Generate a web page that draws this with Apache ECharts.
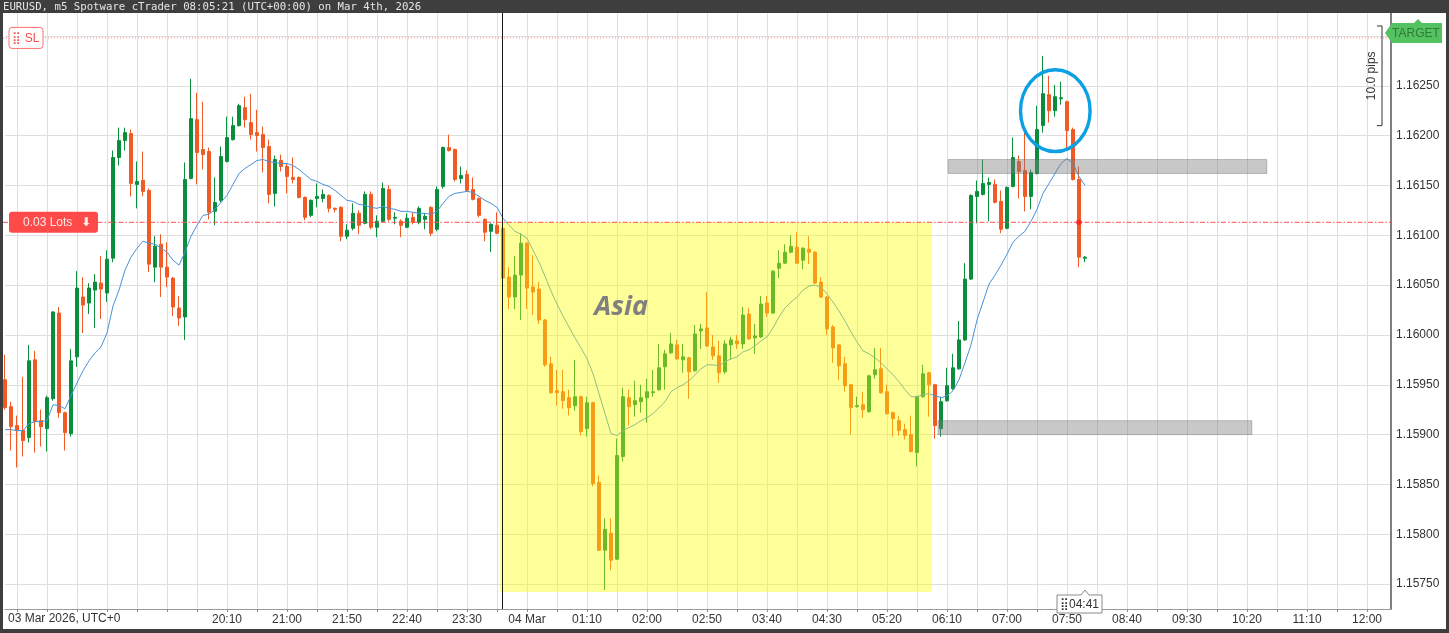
<!DOCTYPE html>
<html><head><meta charset="utf-8">
<script src="https://cdn.jsdelivr.net/npm/echarts@6/dist/echarts.min.js"></script>
<style>html,body{margin:0;padding:0;background:#fff}#c{width:1449px;height:633px}</style>
</head><body><div id="c"></div>
<script>
// ---- data (EURUSD m5, first candle 17:05 on 03 Mar 2026) ----
const firstTime = '17:05';
const slotCount = 232;
const opens = [1.15955,1.15928,1.15909,1.15904,1.15897,1.15975,1.15914,1.15906,1.15936,1.16022,
1.15922,1.15901,1.15978,1.16038,1.16032,1.16045,1.16052,1.16042,1.16077,1.16178,
1.16195,1.16202,1.16151,1.16155,1.16145,1.16068,1.16091,1.16068,1.16057,1.16027,
1.16018,1.16157,1.16216,1.16186,1.16184,1.16124,1.16135,1.16174,1.16196,1.16210,
1.16228,1.16213,1.16203,1.16201,1.16189,1.16142,1.16175,1.16169,1.16158,1.16158,
1.16138,1.16120,1.16137,1.16137,1.16140,1.16127,1.16128,1.16099,1.16107,1.16122,
1.16112,1.16141,1.16108,1.16114,1.16146,1.16117,1.16114,1.16108,1.16118,1.16113,
1.16116,1.16128,1.16106,1.16149,1.16188,1.16186,1.16157,1.16161,1.16146,1.16137,
1.16116,1.16104,1.16110,1.16107,1.16058,1.16038,1.16060,1.16092,1.16048,1.16046,
1.16015,1.15971,1.15944,1.15943,1.15937,1.15929,1.15938,1.15906,1.15932,1.15852,
1.15784,1.15801,1.15775,1.15878,1.15937,1.15930,1.15933,1.15937,1.15942,1.15945,
1.15968,1.15982,1.15990,1.15975,1.15977,1.15964,1.16004,1.16007,1.15988,1.15979,
1.15963,1.15990,1.15994,1.15991,1.16021,1.15997,1.15998,1.16032,1.16022,1.16067,
1.16072,1.16083,1.16088,1.16075,1.16086,1.16083,1.16053,1.16038,1.16008,1.15990,
1.15971,1.15950,1.15928,1.15930,1.15923,1.15960,1.15966,1.15943,1.15922,1.15914,
1.15905,1.15900,1.15882,1.15938,1.15962,1.15950,1.15906,1.15934,1.15946,1.15966,
1.15995,1.16056,1.16139,1.16141,1.16151,1.16151,1.16134,1.16107,1.16149,1.16174,
1.16165,1.16139,1.16162,1.16210,1.16241,1.16225,1.16237,1.16234,1.16206,1.16156,
1.16077];
const highs = [1.15980,1.15933,1.15919,1.15958,1.15990,1.15984,1.15925,1.15939,1.16024,1.16028,
1.15923,1.15986,1.16064,1.16058,1.16052,1.16061,1.16079,1.16085,1.16185,1.16208,
1.16208,1.16206,1.16174,1.16184,1.16147,1.16099,1.16101,1.16093,1.16058,1.16039,
1.16173,1.16257,1.16243,1.16234,1.16188,1.16158,1.16189,1.16219,1.16219,1.16232,
1.16239,1.16242,1.16226,1.16209,1.16196,1.16180,1.16181,1.16172,1.16178,1.16159,
1.16139,1.16136,1.16152,1.16146,1.16141,1.16128,1.16129,1.16111,1.16132,1.16125,
1.16144,1.16144,1.16120,1.16153,1.16150,1.16123,1.16116,1.16122,1.16123,1.16129,
1.16122,1.16129,1.16149,1.16189,1.16201,1.16187,1.16169,1.16165,1.16158,1.16138,
1.16117,1.16112,1.16123,1.16108,1.16068,1.16079,1.16102,1.16093,1.16080,1.16053,
1.16016,1.15978,1.15965,1.15965,1.15945,1.15975,1.15939,1.15938,1.15933,1.15859,
1.15816,1.15816,1.15896,1.15947,1.15945,1.15954,1.15950,1.15956,1.15965,1.15991,
1.15985,1.16002,1.15995,1.15991,1.15978,1.16010,1.16011,1.16043,1.16000,1.15994,
1.15995,1.15998,1.16000,1.16028,1.16027,1.16011,1.16039,1.16039,1.16065,1.16085,
1.16091,1.16100,1.16103,1.16088,1.16099,1.16084,1.16058,1.16039,1.16010,1.15991,
1.15978,1.15951,1.15938,1.15943,1.15960,1.15987,1.15987,1.15950,1.15923,1.15919,
1.15911,1.15919,1.15939,1.15970,1.15963,1.15951,1.15938,1.15967,1.15981,1.16014,
1.16072,1.16141,1.16155,1.16176,1.16158,1.16156,1.16145,1.16149,1.16198,1.16180,
1.16204,1.16166,1.16230,1.16280,1.16260,1.16251,1.16254,1.16235,1.16208,1.16169,
1.16079];
const lows = [1.15925,1.15884,1.15867,1.15878,1.15892,1.15882,1.15888,1.15883,1.15934,1.15917,
1.15884,1.15898,1.15968,1.16002,1.16021,1.16007,1.16016,1.16033,1.16073,1.16170,
1.16185,1.16139,1.16127,1.16139,1.16063,1.16053,1.16038,1.16048,1.16019,1.16009,
1.15995,1.16156,1.16151,1.16166,1.16116,1.16110,1.16133,1.16173,1.16195,1.16209,
1.16208,1.16196,1.16184,1.16163,1.16132,1.16129,1.16164,1.16142,1.16152,1.16137,
1.16115,1.16118,1.16128,1.16133,1.16123,1.16123,1.16094,1.16096,1.16105,1.16101,
1.16111,1.16106,1.16098,1.16113,1.16114,1.16111,1.16098,1.16107,1.16111,1.16111,
1.16106,1.16099,1.16104,1.16147,1.16184,1.16154,1.16152,1.16144,1.16135,1.16118,
1.16094,1.16083,1.16101,1.16035,1.16026,1.16026,1.16015,1.16026,1.16020,1.16011,
1.15968,1.15941,1.15929,1.15926,1.15919,1.15924,1.15899,1.15898,1.15848,1.15783,
1.15744,1.15764,1.15774,1.15873,1.15909,1.15918,1.15922,1.15912,1.15938,1.15944,
1.15945,1.15981,1.15975,1.15962,1.15936,1.15963,1.15986,1.15988,1.15975,1.15952,
1.15961,1.15975,1.15986,1.15986,1.15995,1.15981,1.15997,1.16018,1.16021,1.16057,
1.16071,1.16082,1.16071,1.16066,1.16071,1.16051,1.16037,1.16000,1.15972,1.15955,
1.15943,1.15900,1.15927,1.15917,1.15922,1.15956,1.15941,1.15920,1.15898,1.15899,
1.15895,1.15882,1.15868,1.15937,1.15918,1.15896,1.15898,1.15933,1.15945,1.15965,
1.15994,1.16055,1.16112,1.16140,1.16114,1.16132,1.16102,1.16106,1.16148,1.16137,
1.16124,1.16126,1.16161,1.16203,1.16213,1.16219,1.16231,1.16187,1.16155,1.16068,
1.16073];
const closes = [1.15927,1.15908,1.15904,1.15894,1.15974,1.15913,1.15908,1.15937,1.16023,1.15922,
1.15902,1.15974,1.16047,1.16030,1.16047,1.16053,1.16046,1.16076,1.16178,1.16195,
1.16203,1.16152,1.16154,1.16144,1.16071,1.16089,1.16068,1.16058,1.16028,1.16017,
1.16156,1.16217,1.16183,1.16181,1.16123,1.16133,1.16179,1.16198,1.16210,1.16230,
1.16216,1.16201,1.16200,1.16188,1.16141,1.16176,1.16169,1.16159,1.16156,1.16138,
1.16118,1.16135,1.16139,1.16141,1.16127,1.16126,1.16099,1.16105,1.16122,1.16110,
1.16141,1.16108,1.16114,1.16147,1.16116,1.16118,1.16110,1.16117,1.16113,1.16127,
1.16119,1.16102,1.16146,1.16188,1.16185,1.16156,1.16160,1.16145,1.16136,1.16120,
1.16103,1.16111,1.16102,1.16057,1.16038,1.16060,1.16092,1.16047,1.16043,1.16015,
1.15970,1.15942,1.15942,1.15934,1.15927,1.15938,1.15903,1.15932,1.15851,1.15784,
1.15805,1.15774,1.15879,1.15938,1.15928,1.15934,1.15937,1.15943,1.15943,1.15967,
1.15981,1.15991,1.15976,1.15978,1.15963,1.16001,1.16006,1.15989,1.15979,1.15962,
1.15991,1.15995,1.15991,1.16020,1.15996,1.15999,1.16031,1.16022,1.16064,1.16072,
1.16083,1.16089,1.16072,1.16087,1.16083,1.16052,1.16038,1.16006,1.15987,1.15969,
1.15949,1.15927,1.15929,1.15925,1.15959,1.15965,1.15942,1.15921,1.15916,1.15904,
1.15899,1.15883,1.15938,1.15961,1.15950,1.15909,1.15933,1.15949,1.15967,1.15995,
1.16056,1.16140,1.16144,1.16152,1.16153,1.16133,1.16106,1.16148,1.16178,1.16164,
1.16139,1.16163,1.16206,1.16242,1.16225,1.16239,1.16238,1.16205,1.16156,1.16078,
1.16078];
const maValues = [1.15905,1.15905,1.15904,1.15904,1.15911,1.15913,1.15913,1.15914,1.15930,1.15929,
1.15926,1.15939,1.15952,1.15964,1.15974,1.15982,1.15988,1.16002,1.16029,1.16045,
1.16065,1.16078,1.16087,1.16094,1.16092,1.16091,1.16087,1.16083,1.16075,1.16070,
1.16083,1.16099,1.16110,1.16120,1.16121,1.16126,1.16133,1.16140,1.16151,1.16162,
1.16167,1.16171,1.16175,1.16176,1.16174,1.16173,1.16172,1.16172,1.16170,1.16166,
1.16161,1.16156,1.16154,1.16151,1.16149,1.16145,1.16140,1.16135,1.16134,1.16131,
1.16130,1.16128,1.16127,1.16129,1.16127,1.16126,1.16124,1.16124,1.16123,1.16122,
1.16122,1.16121,1.16124,1.16132,1.16139,1.16142,1.16143,1.16144,1.16143,1.16139,
1.16135,1.16132,1.16128,1.16117,1.16110,1.16104,1.16101,1.16097,1.16085,1.16073,
1.16059,1.16044,1.16031,1.16019,1.16008,1.15997,1.15987,1.15976,1.15961,1.15941,
1.15921,1.15901,1.15899,1.15904,1.15907,1.15910,1.15914,1.15917,1.15921,1.15927,
1.15933,1.15943,1.15947,1.15950,1.15954,1.15960,1.15966,1.15970,1.15970,1.15969,
1.15973,1.15976,1.15978,1.15983,1.15985,1.15989,1.15994,1.15998,1.16007,1.16018,
1.16027,1.16033,1.16038,1.16045,1.16049,1.16050,1.16048,1.16041,1.16033,1.16024,
1.16014,1.16003,1.15993,1.15984,1.15981,1.15977,1.15972,1.15966,1.15960,1.15953,
1.15945,1.15938,1.15938,1.15940,1.15941,1.15939,1.15937,1.15939,1.15944,1.15955,
1.15972,1.15990,1.16015,1.16033,1.16051,1.16060,1.16070,1.16081,1.16093,1.16099,
1.16104,1.16114,1.16126,1.16142,1.16152,1.16162,1.16172,1.16177,1.16172,1.16159,
1.16150];
const xTickTimes  = ['20:10','21:00','21:50','22:40','23:30','00:20','01:10','02:00','02:50','03:40','04:30','05:20','06:10','07:00','07:50','08:40','09:30','10:20','11:10','12:00'];
const xTickLabels = ['20:10','21:00','21:50','22:40','23:30','04 Mar','01:10','02:00','02:50','03:40','04:30','05:20','06:10','07:00','07:50','08:40','09:30','10:20','11:10','12:00'];
const yRange = [1.15725, 1.16323];
const yLabelStep = 0.0005;

// annotations (index / price values)
const asiaBox = [82.5, 154.5, 1.16113, 1.15742];
const upperZone = [157.2, 210.3, 1.16176, 1.16162];
const lowerZone = [155.5, 207.8, 1.15914, 1.15900];
const lotsLevel = [1.16113];
const slLevel = [1.16298];
const targetLevel = [1.16303];
const pipsBracket = [1.16310, 1.16210];
const circleMark = [175.05, 1.16225, 5.8, 0.00041];
const asiaLabelAt = [102.7, 1.16028];
const daySeparator = [83];
const currentCandle = [180];
const lotsDot = [179, 1.16113];

// ---- build ----
const categories = [];
(function(){ let [h,m] = firstTime.split(':').map(Number); let t = h*60+m;
  for (let k=0;k<slotCount;k++){ const mm=((t+5*k)%1440); categories.push(String(Math.floor(mm/60)).padStart(2,'0')+':'+String(mm%60).padStart(2,'0')); } })();
const labelMap = {}; xTickTimes.forEach((t,i)=>labelMap[t]=xTickLabels[i]);
const firstLabelIdx = categories.indexOf(xTickTimes[0]);
const candleData = opens.map((o,i)=>[o, closes[i], lows[i], highs[i]]);

const bull = '#0b8d3e', bear = '#f15a24';
const FONT = '"Liberation Sans", Arial, sans-serif';
const chart = echarts.init(document.getElementById('c'), null, {renderer:'canvas', width:1449, height:633});
const option = {
  animation:false,
  backgroundColor:'#ffffff',
  grid:{left:5, right:58, top:13, bottom:24},
  xAxis:{
    type:'category', data:categories, boundaryGap:false,
    axisLine:{show:true, lineStyle:{color:'#9a9a9a'}},
    axisTick:{show:true, length:3, interval:(i)=>((i-firstLabelIdx)%5===0), lineStyle:{color:'#8a8a8a'}},
    axisLabel:{interval:(i,v)=>labelMap[v]!==undefined, formatter:(v)=>labelMap[v]||'', color:'#333', fontSize:12, fontFamily:FONT, margin:5},
    splitLine:{show:true, interval:(i)=>((i-firstLabelIdx)%5===0), lineStyle:{color:'#dedede', width:1}}
  },
  yAxis:{
    type:'value', position:'right', scale:true, min:yRange[0], max:yRange[1], interval:yLabelStep/2,
    axisLine:{show:true, lineStyle:{color:'#555', width:1.5}},
    axisTick:{show:false},
    axisLabel:{color:'#333', fontSize:12, fontFamily:FONT, margin:5,
      formatter:(v)=>{ const q=v/yLabelStep; return Math.abs(q-Math.round(q))<1e-6 ? v.toFixed(5) : ''; }},
    splitLine:{show:true, lineStyle:{color:['rgba(0,0,0,0)','#dedede'], width:1}}
  },
  series:[
    {type:'candlestick', data:candleData, barWidth:3.6, clip:false, silent:true, z:2,
     itemStyle:{color:bull, color0:bear, borderColor:bull, borderColor0:bear, borderWidth:1}},
    {type:'line', data:maValues, showSymbol:false, symbol:'none', silent:true, z:3,
     lineStyle:{color:'#4a92d8', width:1}}
  ]
};
chart.setOption(option);

const xa = chart.convertToPixel({xAxisIndex:0}, 0);
const xb = chart.convertToPixel({xAxisIndex:0}, 1);
const X = (i)=> xa + (xb-xa)*i;
const Y = (p)=> chart.convertToPixel({yAxisIndex:0}, p);
const gTop = Y(yRange[1]), gBot = Y(yRange[0]);
const gLeft = 3, gRight = X(slotCount-1);

const g = [];
// Asia overlay
g.push({type:'rect', z:50, silent:true, shape:{x:X(asiaBox[0]), y:Y(asiaBox[2]), width:X(asiaBox[1])-X(asiaBox[0]), height:Y(asiaBox[3])-Y(asiaBox[2])}, style:{fill:'rgba(255,255,0,0.40)'}});
// zones
[upperZone, lowerZone].forEach(z=>{
  g.push({type:'rect', z:55, silent:true, shape:{x:X(z[0]), y:Y(z[2]), width:X(z[1])-X(z[0]), height:Y(z[3])-Y(z[2])}, style:{fill:'rgba(125,125,125,0.42)', stroke:'rgba(95,95,95,0.35)', lineWidth:1}});
});
// day separator
g.push({type:'line', z:60, silent:true, shape:{x1:X(daySeparator[0])-0.5, y1:gTop, x2:X(daySeparator[0])-0.5, y2:gBot}, style:{stroke:'#1a1a1a', lineWidth:1}});
// lots line
g.push({type:'line', z:60, silent:true, shape:{x1:gLeft, y1:Y(lotsLevel[0]), x2:gRight, y2:Y(lotsLevel[0])}, style:{stroke:'#ff5050', lineWidth:1, lineDash:[5,2,1.5,2]}});
// SL line
g.push({type:'line', z:60, silent:true, shape:{x1:gLeft, y1:Y(slLevel[0]), x2:gRight, y2:Y(slLevel[0])}, style:{stroke:'#ff8c8c', lineWidth:1, lineDash:[1,2]}});
// ellipse
g.push({type:'ellipse', z:70, silent:true, shape:{cx:X(circleMark[0]), cy:Y(circleMark[1]), rx:X(circleMark[0]+circleMark[2])-X(circleMark[0]), ry:Y(circleMark[1]-circleMark[3])-Y(circleMark[1])}, style:{fill:'none', stroke:'#0b9fe4', lineWidth:3.4}});
// red dot
g.push({type:'circle', z:72, silent:true, shape:{cx:X(lotsDot[0]), cy:Y(lotsDot[1]), r:2.8}, style:{fill:'#ff2a2a'}});
// Asia label
g.push({type:'text', z:75, silent:true, x:X(asiaLabelAt[0]), y:Y(asiaLabelAt[1]), style:{text:'Asia', fill:'#808080', font:'italic bold 27px "Open Sans", "DejaVu Sans", sans-serif', align:'center', verticalAlign:'middle'}});
// SL label
const ySL = Y(slLevel[0]);
g.push({type:'rect', z:80, silent:true, shape:{x:9, y:ySL-10.5, width:34, height:21, r:3}, style:{fill:'#ffffff', stroke:'#ff7070', lineWidth:1}});
g.push({type:'text', z:81, silent:true, x:26, y:ySL+0.5, style:{text:'⣿ SL', fill:'#f05050', font:'12px '+FONT, align:'center', verticalAlign:'middle'}});
// Lots label
const yL = Y(lotsLevel[0]);
g.push({type:'rect', z:80, silent:true, shape:{x:9, y:yL-10.5, width:89, height:21, r:3}, style:{fill:'#ff4a4a'}});
g.push({type:'text', z:81, silent:true, x:23, y:yL+0.5, style:{text:'0.03 Lots', fill:'#ffe8e8', font:'12px '+FONT, align:'left', verticalAlign:'middle'}});
g.push({type:'text', z:81, silent:true, x:86, y:yL+0.5, style:{text:'⬇', fill:'#ffe8e8', font:'bold 12px "DejaVu Sans", sans-serif', align:'center', verticalAlign:'middle'}});
// TARGET label
const yT = Y(targetLevel[0]);
g.push({type:'polygon', z:80, silent:true, shape:{points:[[1385,yT],[1392,yT-10],[1414,yT-10],[1418,yT-14],[1422,yT-10],[1442,yT-10],[1442,yT+10],[1392,yT+10]]}, style:{fill:'#55c262'}});
g.push({type:'text', z:81, silent:true, x:1416, y:yT+0.5, style:{text:'TARGET', fill:'#2f7a35', font:'12px '+FONT, align:'center', verticalAlign:'middle'}});
// 10 pips bracket
const yp1 = Y(pipsBracket[0]), yp2 = Y(pipsBracket[1]);
g.push({type:'polyline', z:80, silent:true, shape:{points:[[1377,yp1],[1382,yp1],[1382,yp2],[1377,yp2]]}, style:{stroke:'#333', lineWidth:1, fill:'none'}});
g.push({type:'text', z:81, silent:true, x:1372, y:(yp1+yp2)/2, rotation:Math.PI/2, style:{text:'10.0 pips', fill:'#333', font:'12px '+FONT, align:'center', verticalAlign:'middle'}});
// countdown label
const xc = X(currentCandle[0]);
g.push({type:'polygon', z:90, silent:true, shape:{points:[[1057,595],[xc-4,595],[xc,590],[xc+4,595],[1102,595],[1102,613],[1057,613]]}, style:{fill:'#ffffff', stroke:'#8a8a8a', lineWidth:1}});
g.push({type:'text', z:91, silent:true, x:1079.5, y:604.5, style:{text:'⣿04:41', fill:'#333', font:'12px '+FONT, align:'center', verticalAlign:'middle'}});
// date label at axis start
g.push({type:'text', z:91, silent:true, x:8, y:619, style:{text:'03 Mar 2026, UTC+0', fill:'#333', font:'12px '+FONT, align:'left', verticalAlign:'middle'}});
// frame
g.push({type:'rect', z:95, silent:true, shape:{x:0, y:0, width:1449, height:13}, style:{fill:'#3e3e3e'}});
g.push({type:'rect', z:95, silent:true, shape:{x:0, y:0, width:3, height:633}, style:{fill:'#3e3e3e'}});
g.push({type:'rect', z:95, silent:true, shape:{x:1446, y:0, width:3, height:633}, style:{fill:'#3e3e3e'}});
g.push({type:'rect', z:95, silent:true, shape:{x:0, y:629, width:1449, height:4}, style:{fill:'#3e3e3e'}});
g.push({type:'text', z:96, silent:true, x:3, y:7, style:{text:'EURUSD, m5 Spotware cTrader 08:05:21 (UTC+00:00) on Mar 4th, 2026', fill:'#e6e6e6', font:'10.7px "DejaVu Sans Mono", monospace', align:'left', verticalAlign:'middle'}});

chart.setOption({graphic:{elements:g}});
</script>
</body></html>
